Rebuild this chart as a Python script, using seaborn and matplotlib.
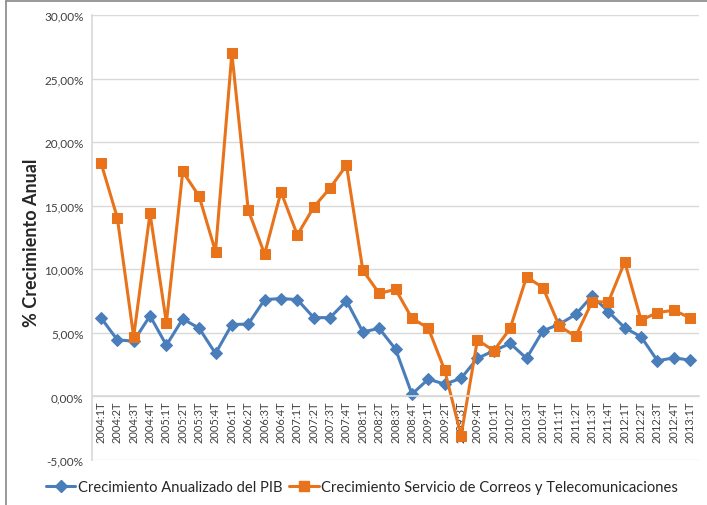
import numpy as np
import pandas as pd
import seaborn as sns
import matplotlib.pyplot as plt
from matplotlib.lines import Line2D
from matplotlib.ticker import FuncFormatter, MultipleLocator

QUARTERS = [f"{y}:{q}T" for y in range(2004, 2014) for q in range(1, 5)][:37]

PIB = [6.20, 4.45, 4.35, 6.34, 4.03, 6.10, 5.37, 3.38, 5.66, 5.69,
       7.62, 7.70, 7.62, 6.20, 6.20, 7.52, 5.08, 5.35, 3.72, 0.18,
       1.36, 0.97, 1.42, 3.00, 3.59, 4.17, 3.00, 5.16, 5.68, 6.45,
       7.90, 6.68, 5.40, 4.69, 2.80, 3.04, 2.85]

CORREOS = [18.40, 14.07, 4.70, 14.40, 5.80, 17.70, 15.75, 11.40, 27.00, 14.67,
           11.20, 16.10, 12.70, 14.90, 16.40, 18.20, 9.93, 8.10, 8.43, 6.15,
           5.37, 2.07, -3.10, 4.45, 3.59, 5.35, 9.40, 8.57, 5.55, 4.72,
           7.44, 7.44, 10.58, 6.00, 6.60, 6.78, 6.18]

LABEL_PIB = "Crecimiento Anualizado del PIB"
LABEL_CORREOS = "Crecimiento Servicio de Correos y Telecomunicaciones"

BLUE = "#4A7EBB"
ORANGE = "#E8731A"

sns.set_theme(style="white")
plt.rcParams['font.family'] = ['Lato', 'DejaVu Sans']

df = pd.DataFrame({"pos": np.arange(len(QUARTERS)), "pib": PIB, "correos": CORREOS})

fig = plt.figure(figsize=(7.07, 5.06), dpi=100)
ax = fig.add_axes([0.130, 0.089, 0.859, 0.879])

sns.lineplot(data=df, x="pos", y="pib", ax=ax, color=BLUE, lw=2.2,
             marker="D", markersize=6, markeredgecolor=BLUE)
sns.lineplot(data=df, x="pos", y="correos", ax=ax, color=ORANGE, lw=2.2,
             marker="s", markersize=7.5, markeredgecolor=ORANGE)

ax.set_ylim(-5, 30)
ax.set_xlim(-0.55, len(QUARTERS) - 0.45)
ax.yaxis.set_major_locator(MultipleLocator(5))
ax.yaxis.set_major_formatter(FuncFormatter(lambda v, p: f"{v:.2f}%".replace(".", ",")))
ax.grid(axis="y", color="#d9d9d9", lw=1)
ax.set_axisbelow(True)

# category axis crosses at 0, like the Excel original
ax.spines['bottom'].set_position(('data', 0))
ax.spines['bottom'].set_color("#d9d9d9")
for s in ['top', 'right']:
    ax.spines[s].set_visible(False)
ax.spines['left'].set_color("#d9d9d9")

ax.set_xticks(df["pos"])
ax.set_xticklabels(QUARTERS, rotation=90, fontsize=8, color="#404040")
ax.tick_params(axis="y", labelsize=8.5, colors="#404040", length=0, pad=6)
ax.tick_params(axis="x", length=0, pad=3)

ax.set_xlabel("")
ax.set_ylabel("% Crecimiento Anual", fontsize=13, fontweight="bold", labelpad=1)
ax.yaxis.set_label_coords(-0.085, 0.49)

handles = [
    Line2D([], [], color=BLUE, lw=2.2, marker="D", markersize=6),
    Line2D([], [], color=ORANGE, lw=2.2, marker="s", markersize=7.5),
]
fig.legend(handles, [LABEL_PIB, LABEL_CORREOS], loc="center", ncol=2,
           bbox_to_anchor=(0.512, 0.035), frameon=False, fontsize=10.6,
           handlelength=2.0, handletextpad=0.15, columnspacing=0.5)

# chart-area frame edges visible in the original
fig.add_artist(Line2D([0.0085, 1.0], [0.996, 0.996], color="#888888", lw=1.2, transform=fig.transFigure))
fig.add_artist(Line2D([0.0085, 0.0085], [0.0, 0.996], color="#888888", lw=1.2, transform=fig.transFigure))

fig.savefig("out.png", dpi=100)
